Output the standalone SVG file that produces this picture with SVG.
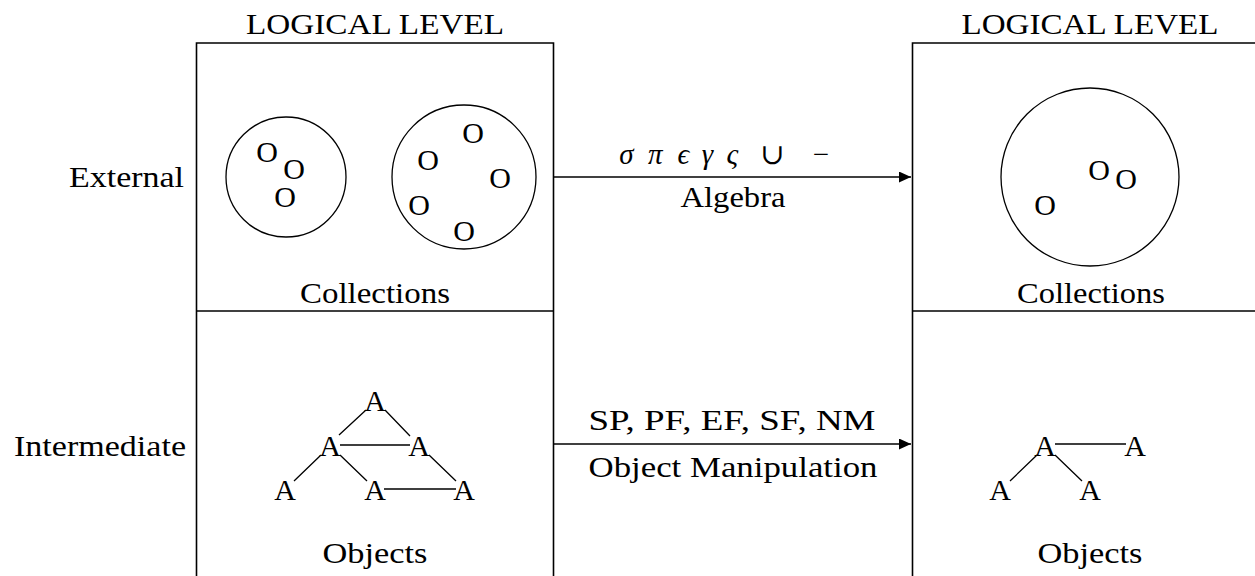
<svg xmlns="http://www.w3.org/2000/svg" width="1255" height="576" viewBox="0 0 1255 576">
<style>
text{font-family:"Liberation Serif","DejaVu Serif",serif;font-size:29px;fill:#000}
.c{text-anchor:middle}
.e{text-anchor:end}
.g{font-size:30px;text-anchor:middle}
.box{fill:none;stroke:#000;stroke-width:1.6}
.ln{fill:none;stroke:#000;stroke-width:1.3}
.arr{fill:none;stroke:#000;stroke-width:1.6}
</style>
<defs>
<marker id="ah" markerUnits="userSpaceOnUse" markerWidth="12" markerHeight="11" refX="12" refY="5.5" orient="auto">
<path d="M0,0 L12,5.5 L0,11 Z" fill="#000"/>
</marker>
</defs>
<rect width="1255" height="576" fill="#fff"/>

<g id="row-labels">
<text class="e" x="184" y="187" textLength="115" lengthAdjust="spacingAndGlyphs">External</text>
<text class="e" x="186" y="456" textLength="172" lengthAdjust="spacingAndGlyphs">Intermediate</text>
</g>

<g id="left-logical">
<text class="c" x="375" y="34" textLength="258" lengthAdjust="spacingAndGlyphs">LOGICAL LEVEL</text>
<path class="box" d="M196.5,580 V43 H553.5 V580"/>
<path class="box" d="M196.5,311 H553.5"/>
</g>

<g id="left-collections">
<circle class="ln" cx="286" cy="177" r="60"/>
<circle class="ln" cx="464" cy="177" r="72"/>
<text class="g" x="267" y="162">O</text>
<text class="g" x="294" y="179">O</text>
<text class="g" x="285" y="207">O</text>
<text class="g" x="473" y="143">O</text>
<text class="g" x="428" y="170">O</text>
<text class="g" x="500" y="188">O</text>
<text class="g" x="419" y="215">O</text>
<text class="g" x="464" y="241">O</text>
<text class="c" x="375" y="303" textLength="150" lengthAdjust="spacingAndGlyphs">Collections</text>
</g>

<g id="left-objects">
<text class="g" x="375" y="411">A</text>
<text class="g" x="330" y="456">A</text>
<text class="g" x="419" y="456">A</text>
<text class="g" x="285" y="500">A</text>
<text class="g" x="375" y="500">A</text>
<text class="g" x="464" y="500">A</text>
<path class="ln" d="M366,410 L339,435 M385,410 L410,436 M340,445 H410 M321,455 L294,481 M340,455 L367,481 M429,455 L456,481 M384,489 H456"/>
<text class="c" x="375" y="563" textLength="105" lengthAdjust="spacingAndGlyphs">Objects</text>
</g>

<g id="right-logical">
<text class="c" x="1090" y="34" textLength="257" lengthAdjust="spacingAndGlyphs">LOGICAL LEVEL</text>
<path class="box" d="M912.5,580 V43 H1260"/>
<path class="box" d="M912.5,311 H1260"/>
</g>

<g id="right-collections">
<circle class="ln" cx="1090" cy="177" r="89"/>
<text class="g" x="1099" y="180">O</text>
<text class="g" x="1126" y="189">O</text>
<text class="g" x="1045" y="215">O</text>
<text class="c" x="1091" y="303" textLength="148" lengthAdjust="spacingAndGlyphs">Collections</text>
</g>

<g id="right-objects">
<text class="g" x="1045" y="456">A</text>
<text class="g" x="1135" y="456">A</text>
<text class="g" x="1000" y="500">A</text>
<text class="g" x="1090" y="500">A</text>
<path class="ln" d="M1055,444 H1126 M1037,455 L1010,481 M1055,455 L1082,481"/>
<text class="c" x="1090" y="563" textLength="105" lengthAdjust="spacingAndGlyphs">Objects</text>
</g>

<g id="connectors">
<path class="arr" d="M554,177 H911" marker-end="url(#ah)"/>
<path class="arr" d="M554,444 H911" marker-end="url(#ah)"/>
<text class="c" y="164" font-style="italic"><tspan x="630">σ</tspan> <tspan x="659">π</tspan> <tspan x="687">ϵ</tspan> <tspan x="711">γ</tspan> <tspan x="736">ς</tspan> <tspan x="776" font-style="normal">∪</tspan> <tspan x="821" font-style="normal">−</tspan></text>
<text class="c" x="733" y="207" textLength="105" lengthAdjust="spacingAndGlyphs">Algebra</text>
<text class="c" x="732" y="430" textLength="287" lengthAdjust="spacingAndGlyphs">SP, PF, EF, SF, NM</text>
<text class="c" x="733" y="477" textLength="289" lengthAdjust="spacingAndGlyphs">Object Manipulation</text>
</g>
</svg>
